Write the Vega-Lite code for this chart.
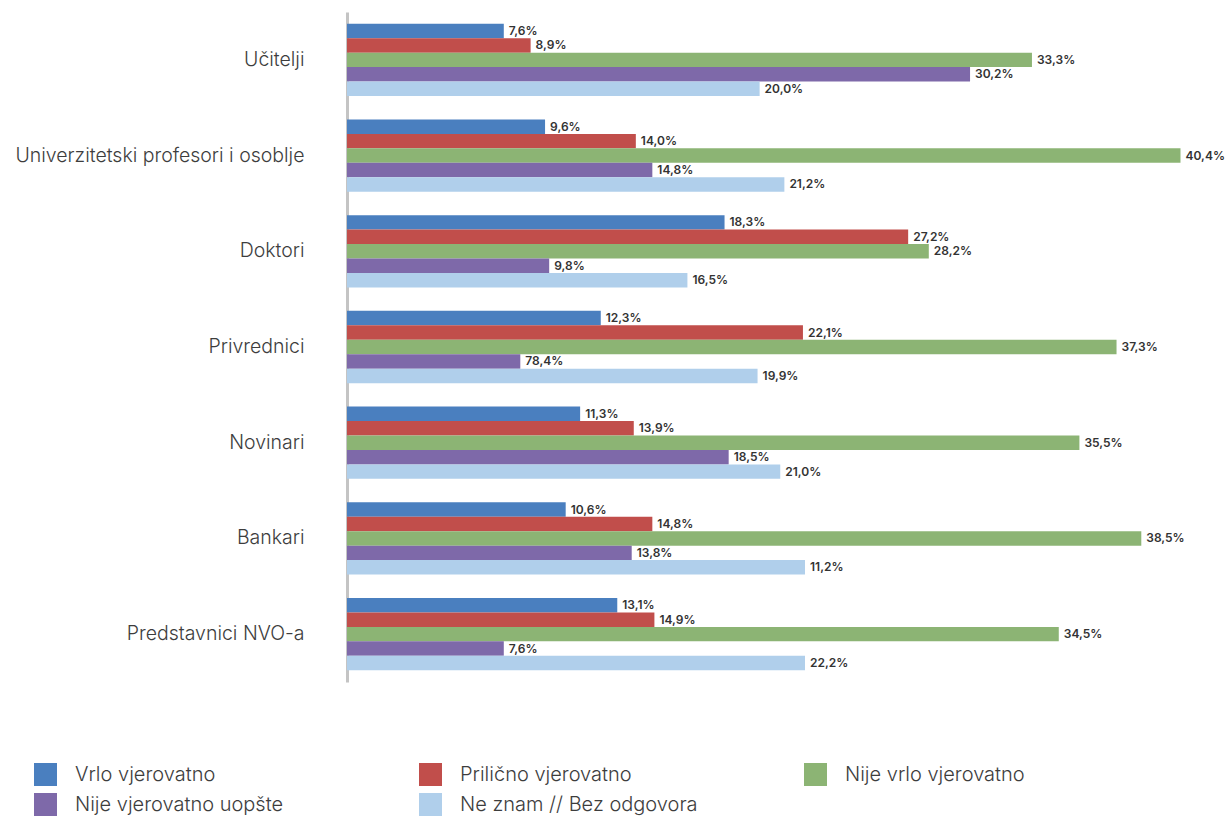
{
  "$schema": "https://vega.github.io/schema/vega-lite/v6.json",
  "autosize": {"type": "none"},
  "padding": {"left": 347, "top": 12, "right": 34, "bottom": 138},
  "width": 850,
  "height": 670,
  "background": "white",
  "config": {"view": {"stroke": null}, "font": "Inter"},
  "data": {"values": [
    {"grupa": "Učitelji", "odgovor": "Vrlo vjerovatno", "vrijednost": 7.6, "oznaka": "7,6%"},
    {"grupa": "Učitelji", "odgovor": "Prilično vjerovatno", "vrijednost": 8.9, "oznaka": "8,9%"},
    {"grupa": "Učitelji", "odgovor": "Nije vrlo vjerovatno", "vrijednost": 33.2, "oznaka": "33,3%"},
    {"grupa": "Učitelji", "odgovor": "Nije vjerovatno uopšte", "vrijednost": 30.2, "oznaka": "30,2%"},
    {"grupa": "Učitelji", "odgovor": "Ne znam // Bez odgovora", "vrijednost": 20.0, "oznaka": "20,0%"},
    {"grupa": "Univerzitetski profesori i osoblje", "odgovor": "Vrlo vjerovatno", "vrijednost": 9.6, "oznaka": "9,6%"},
    {"grupa": "Univerzitetski profesori i osoblje", "odgovor": "Prilično vjerovatno", "vrijednost": 14.0, "oznaka": "14,0%"},
    {"grupa": "Univerzitetski profesori i osoblje", "odgovor": "Nije vrlo vjerovatno", "vrijednost": 40.4, "oznaka": "40,4%"},
    {"grupa": "Univerzitetski profesori i osoblje", "odgovor": "Nije vjerovatno uopšte", "vrijednost": 14.8, "oznaka": "14,8%"},
    {"grupa": "Univerzitetski profesori i osoblje", "odgovor": "Ne znam // Bez odgovora", "vrijednost": 21.2, "oznaka": "21,2%"},
    {"grupa": "Doktori", "odgovor": "Vrlo vjerovatno", "vrijednost": 18.3, "oznaka": "18,3%"},
    {"grupa": "Doktori", "odgovor": "Prilično vjerovatno", "vrijednost": 27.2, "oznaka": "27,2%"},
    {"grupa": "Doktori", "odgovor": "Nije vrlo vjerovatno", "vrijednost": 28.2, "oznaka": "28,2%"},
    {"grupa": "Doktori", "odgovor": "Nije vjerovatno uopšte", "vrijednost": 9.8, "oznaka": "9,8%"},
    {"grupa": "Doktori", "odgovor": "Ne znam // Bez odgovora", "vrijednost": 16.5, "oznaka": "16,5%"},
    {"grupa": "Privrednici", "odgovor": "Vrlo vjerovatno", "vrijednost": 12.3, "oznaka": "12,3%"},
    {"grupa": "Privrednici", "odgovor": "Prilično vjerovatno", "vrijednost": 22.1, "oznaka": "22,1%"},
    {"grupa": "Privrednici", "odgovor": "Nije vrlo vjerovatno", "vrijednost": 37.3, "oznaka": "37,3%"},
    {"grupa": "Privrednici", "odgovor": "Nije vjerovatno uopšte", "vrijednost": 8.4, "oznaka": "78,4%"},
    {"grupa": "Privrednici", "odgovor": "Ne znam // Bez odgovora", "vrijednost": 19.9, "oznaka": "19,9%"},
    {"grupa": "Novinari ", "odgovor": "Vrlo vjerovatno", "vrijednost": 11.3, "oznaka": "11,3%"},
    {"grupa": "Novinari ", "odgovor": "Prilično vjerovatno", "vrijednost": 13.9, "oznaka": "13,9%"},
    {"grupa": "Novinari ", "odgovor": "Nije vrlo vjerovatno", "vrijednost": 35.5, "oznaka": "35,5%"},
    {"grupa": "Novinari ", "odgovor": "Nije vjerovatno uopšte", "vrijednost": 18.5, "oznaka": "18,5%"},
    {"grupa": "Novinari ", "odgovor": "Ne znam // Bez odgovora", "vrijednost": 21.0, "oznaka": "21,0%"},
    {"grupa": "Bankari", "odgovor": "Vrlo vjerovatno", "vrijednost": 10.6, "oznaka": "10,6%"},
    {"grupa": "Bankari", "odgovor": "Prilično vjerovatno", "vrijednost": 14.8, "oznaka": "14,8%"},
    {"grupa": "Bankari", "odgovor": "Nije vrlo vjerovatno", "vrijednost": 38.5, "oznaka": "38,5%"},
    {"grupa": "Bankari", "odgovor": "Nije vjerovatno uopšte", "vrijednost": 13.8, "oznaka": "13,8%"},
    {"grupa": "Bankari", "odgovor": "Ne znam // Bez odgovora", "vrijednost": 22.2, "oznaka": "11,2%"},
    {"grupa": "Predstavnici NVO-a", "odgovor": "Vrlo vjerovatno", "vrijednost": 13.1, "oznaka": "13,1%"},
    {"grupa": "Predstavnici NVO-a", "odgovor": "Prilično vjerovatno", "vrijednost": 14.9, "oznaka": "14,9%"},
    {"grupa": "Predstavnici NVO-a", "odgovor": "Nije vrlo vjerovatno", "vrijednost": 34.5, "oznaka": "34,5%"},
    {"grupa": "Predstavnici NVO-a", "odgovor": "Nije vjerovatno uopšte", "vrijednost": 7.6, "oznaka": "7,6%"},
    {"grupa": "Predstavnici NVO-a", "odgovor": "Ne znam // Bez odgovora", "vrijednost": 22.2, "oznaka": "22,2%"}
  ]},
  "encoding": {
    "y": {
      "field": "grupa", "type": "nominal", "sort": null,
      "scale": {"paddingInner": 0.245, "paddingOuter": 0.1225},
      "axis": {
        "title": null, "ticks": false, "labelFontSize": 19.5, "labelColor": "#3d3d3d",
        "labelPadding": 43, "domainColor": "#c4c4c4", "domainWidth": 3,
        "labelFont": "Inter", "labelFontWeight": 300, "labelLimit": 500
      }
    },
    "yOffset": {
      "field": "odgovor", "type": "nominal",
      "sort": ["Vrlo vjerovatno", "Prilično vjerovatno", "Nije vrlo vjerovatno", "Nije vjerovatno uopšte", "Ne znam // Bez odgovora"],
      "scale": {"paddingInner": 0, "paddingOuter": 0}
    },
    "x": {
      "field": "vrijednost", "type": "quantitative",
      "scale": {"domain": [0, 41.2], "nice": false},
      "axis": null
    }
  },
  "layer": [
    {
      "mark": {"type": "bar", "cornerRadius": 0},
      "encoding": {
        "color": {
          "field": "odgovor", "type": "nominal",
          "sort": ["Vrlo vjerovatno", "Prilično vjerovatno", "Nije vrlo vjerovatno", "Nije vjerovatno uopšte", "Ne znam // Bez odgovora"],
          "scale": {
            "domain": ["Vrlo vjerovatno", "Prilično vjerovatno", "Nije vrlo vjerovatno", "Nije vjerovatno uopšte", "Ne znam // Bez odgovora"],
            "range": ["#4a7fbf", "#c14e4b", "#8cb474", "#7e69a9", "#b0cfeb"]
          },
          "legend": {
            "title": null, "orient": "none", "legendX": -313, "legendY": 751,
            "direction": "horizontal", "columns": 3, "columnPadding": 106, "rowPadding": 7, "gridAlign": "all",
            "symbolType": "square", "symbolSize": 529, "symbolStrokeWidth": 0, "symbolOpacity": 1,
            "labelFontSize": 20, "labelColor": "#3d3d3d", "labelOffset": 18, "labelFont": "Inter",
            "labelFontWeight": 300, "labelLimit": 500
          }
        }
      }
    },
    {
      "mark": {"type": "text", "align": "left", "baseline": "middle", "dx": 5, "fontSize": 12, "fontWeight": 600, "color": "#333333", "font": "Inter"},
      "encoding": {"text": {"field": "oznaka"}}
    }
  ]
}
